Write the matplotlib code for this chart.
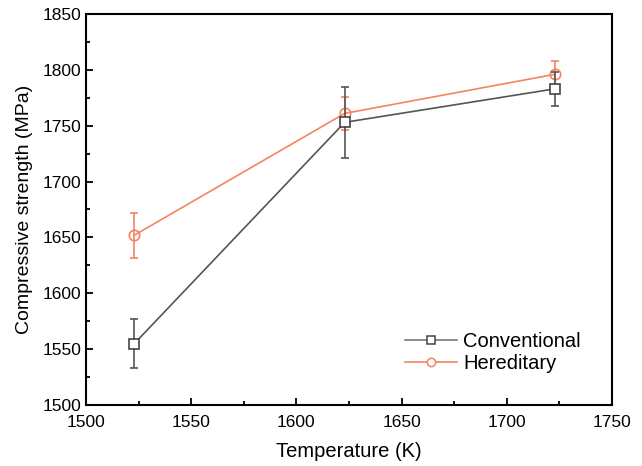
import matplotlib
matplotlib.use("Agg")
import matplotlib.pyplot as plt
from matplotlib.lines import Line2D

plt.rcParams['font.family'] = ['Liberation Sans', 'DejaVu Sans']

temps = [1523, 1623, 1723]
conv = [1555, 1753, 1783]
conv_err = [22, 32, 15]
hered = [1652, 1761, 1796]
hered_err = [20, 15, 12]

grey = '#555555'
orange = '#f4845f'

fig = plt.figure(figsize=(6.42, 4.66), dpi=100)
ax = fig.add_axes([0.134, 0.131, 0.819, 0.839])

ax.errorbar(temps, conv, yerr=conv_err, color=grey, marker='s', ms=6.5,
            mfc='white', mec='#444444', mew=1.2, lw=1.2, capsize=3, capthick=1.2,
            elinewidth=1.2, zorder=3)
ax.errorbar(temps, hered, yerr=hered_err, color=orange, marker='o', ms=7.5,
            mfc='none', mec=orange, mew=1.2, lw=1.2, capsize=3, capthick=1.2,
            elinewidth=1.2, zorder=2)

ax.set_xlim(1500, 1750)
ax.set_ylim(1500, 1850)
ax.set_xticks([1500, 1550, 1600, 1650, 1700, 1750])
ax.set_yticks(range(1500, 1851, 50))
ax.set_xticks(range(1525, 1750, 50), minor=True)
ax.set_yticks(range(1525, 1850, 50), minor=True)
ax.tick_params(which='both', direction='in', labelsize=12.5, width=1.3)
ax.tick_params(which='major', length=5)
ax.tick_params(which='minor', length=3)
ax.tick_params(axis='x', which='major', pad=7)
for s in ax.spines.values():
    s.set_linewidth(1.5)

ax.set_xlabel('Temperature (K)', fontsize=14.5, labelpad=9)
ax.set_ylabel('Compressive strength (MPa)', fontsize=14, labelpad=7)

handles = [
    Line2D([], [], color='#777777', lw=1.2, marker='s', ms=5.5, mfc='white',
           mec='#444444', mew=1.1),
    Line2D([], [], color=orange, lw=1.2, marker='o', ms=6, mfc='white',
           mec=orange, mew=1.1),
]
ax.legend(handles, ['Conventional', 'Hereditary'], loc='lower right',
          bbox_to_anchor=(0.975, 0.035), frameon=False, fontsize=14.5,
          handlelength=2.6, handletextpad=0.3, labelspacing=0.15)

fig.savefig('out.png', dpi=100)
